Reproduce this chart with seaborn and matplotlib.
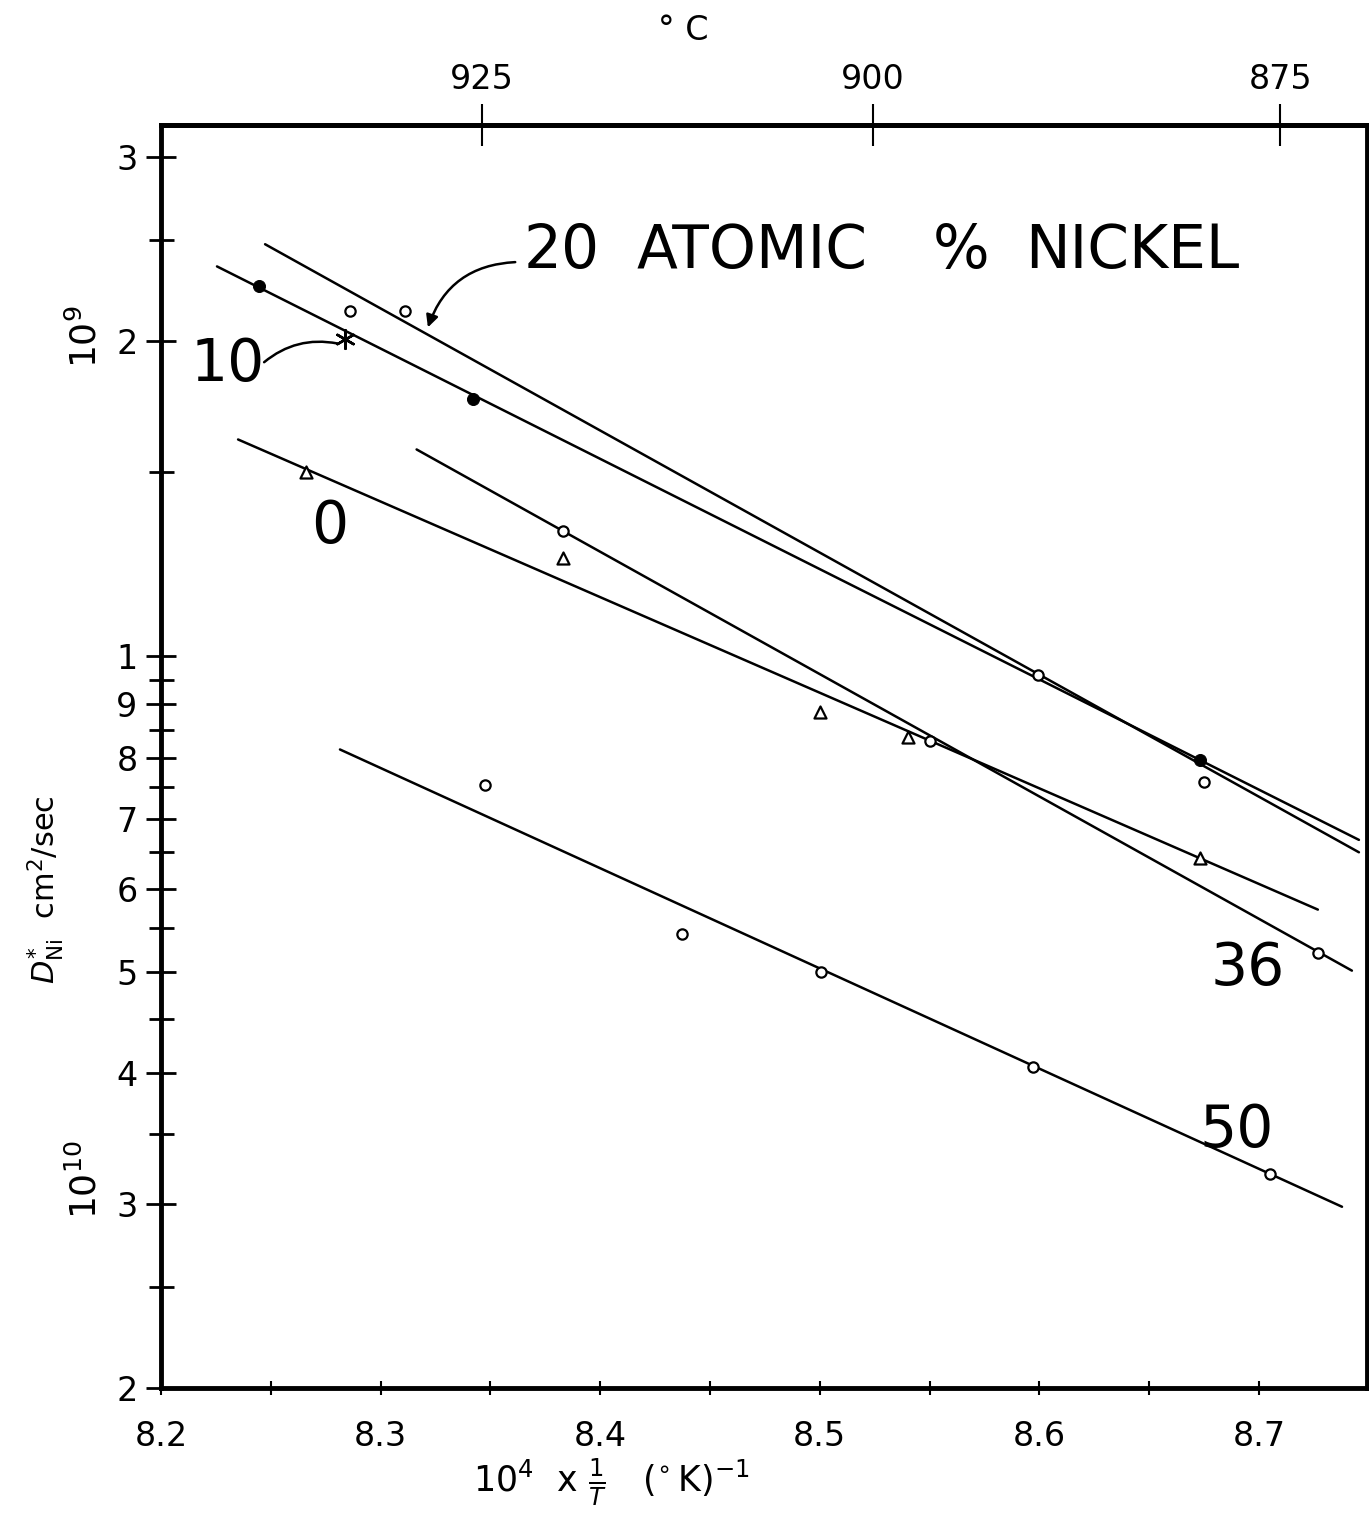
import numpy as np
import matplotlib
matplotlib.use("Agg")
import matplotlib.pyplot as plt
import seaborn as sns
from matplotlib.ticker import FixedLocator, NullFormatter

# ---------------- data ----------------
# measured points: x = 10^4/T (K^-1), D in cm^2/sec
x_10 = [8.2446, 8.342, 8.673]
d_10 = [2.258e-9, 1.761e-9, 0.797e-9]
x_10_star = [8.284]
d_10_star = [2.01e-9]
x_20 = [8.286, 8.311, 8.5994, 8.675]
d_20 = [2.137e-9, 2.137e-9, 0.961e-9, 0.759e-9]
x_0 = [8.266, 8.383, 8.500, 8.540, 8.673]
d_0 = [1.50e-9, 1.243e-9, 0.886e-9, 0.837e-9, 0.642e-9]
x_36 = [8.383, 8.550, 8.727]
d_36 = [1.317e-9, 0.831e-9, 0.521e-9]
x_50 = [8.3475, 8.4372, 8.5005, 8.597, 8.705]
d_50 = [0.753e-9, 0.543e-9, 0.499e-9, 0.405e-9, 0.320e-9]

# drawn fit lines (end points)
line_x_10 = [8.2255, 8.7455]
line_d_10 = [2.359e-9, 0.668e-9]
line_x_20 = [8.2474, 8.7455]
line_d_20 = [2.477e-9, 0.650e-9]
line_x_0 = [8.2351, 8.7268]
line_d_0 = [1.612e-9, 0.573e-9]
line_x_36 = [8.3164, 8.7423]
line_d_36 = [1.577e-9, 0.501e-9]
line_x_50 = [8.2815, 8.7378]
line_d_50 = [0.815e-9, 0.298e-9]

x_ticks = [8.2, 8.3, 8.4, 8.5, 8.6, 8.7]
x_ticklabels = ["8.2", "8.3", "8.4", "8.5", "8.6", "8.7"]
x_minor = [8.25, 8.35, 8.45, 8.55, 8.65]
y_ticks = [2e-10, 3e-10, 4e-10, 5e-10, 6e-10, 7e-10, 8e-10, 9e-10, 1e-9, 2e-9, 3e-9]
y_ticklabels = ["2", "3", "4", "5", "6", "7", "8", "9", "1", "2", "3"]
y_minor = [2.5e-10, 3.5e-10, 4.5e-10, 5.5e-10, 6.5e-10, 7.5e-10, 8.5e-10, 9.5e-10,
           1.5e-9, 2.5e-9]
top_ticks_c = [925, 900, 875]

# ---------------- figure ----------------
sns.set_style("ticks")
plt.rcParams["font.family"] = ["DejaVu Sans"]
plt.rcParams.update({"text.color": "black", "axes.edgecolor": "black",
                     "axes.labelcolor": "black", "xtick.color": "black",
                     "ytick.color": "black"})

W, H = 1369, 1535
fig = plt.figure(figsize=(W / 100, H / 100), dpi=100)
L, R, T, B = 161, 1367, 125, 1388
ax = fig.add_axes([L / W, (H - B) / H, (R - L) / W, (B - T) / H])

lw_line = 1.8
for lx, ly in [(line_x_10, line_d_10), (line_x_20, line_d_20), (line_x_0, line_d_0),
               (line_x_36, line_d_36), (line_x_50, line_d_50)]:
    sns.lineplot(x=lx, y=ly, ax=ax, color="black", linewidth=lw_line,
                 estimator=None, sort=False, legend=False)

open_kw = dict(color="white", edgecolor="black", linewidth=1.6, zorder=4, legend=False)
sns.scatterplot(x=x_20, y=d_20, ax=ax, marker="o", s=55, **open_kw)
sns.scatterplot(x=x_36, y=d_36, ax=ax, marker="o", s=55, **open_kw)
sns.scatterplot(x=x_50, y=d_50, ax=ax, marker="o", s=55, **open_kw)
sns.scatterplot(x=x_0, y=d_0, ax=ax, marker="^", s=75, **open_kw)
sns.scatterplot(x=x_10, y=d_10, ax=ax, marker="o", s=75, color="black",
                edgecolor="black", zorder=4, legend=False)
sns.scatterplot(x=x_10_star, y=d_10_star, ax=ax, marker=(6, 2, 0), s=180,
                color="black", linewidth=1.8, zorder=4, legend=False)

ax.set_yscale("log")
ax.set_xlim(8.2, 8.2 + (R - L) / 2196)
ax.set_ylim(2e-10, 3.22e-9)

ax.set_xticks(x_ticks, labels=x_ticklabels)
ax.xaxis.set_minor_locator(FixedLocator(x_minor))
ax.set_yticks(y_ticks, labels=y_ticklabels)
ax.yaxis.set_minor_locator(FixedLocator(y_minor))
ax.yaxis.set_minor_formatter(NullFormatter())

ax.tick_params(axis="x", which="both", direction="inout", length=10, width=1.5,
               labelsize=24, pad=18, top=False)
ax.tick_params(axis="y", which="major", direction="inout", length=22, width=2,
               labelsize=24, pad=6, right=False)
ax.tick_params(axis="y", which="minor", direction="inout", length=18, width=2,
               right=False)
for s in ax.spines.values():
    s.set_linewidth(3.5)
    s.set_color("black")
ax.set_xlabel("")
ax.set_ylabel("")

secax = ax.secondary_xaxis(
    "top",
    functions=(lambda x: 1e4 / np.asarray(x, dtype=float) - 273.15,
               lambda c: 1e4 / (np.asarray(c, dtype=float) + 273.15)))
secax.set_xticks(top_ticks_c, labels=[str(t) for t in top_ticks_c])
secax.tick_params(direction="inout", length=30, width=1.5, labelsize=24, pad=6,
                  color="black", labelcolor="black")
secax.spines["top"].set_linewidth(3.5)
secax.spines["top"].set_color("black")


def axpos(xp, yp):
    return ((xp - L) / (R - L), (B - yp) / (B - T))


big = 43
ax.text(*axpos(524, 252), "20", transform=ax.transAxes, fontsize=big,
        ha="left", va="center")
ax.text(*axpos(637, 252), "ATOMIC", transform=ax.transAxes, fontsize=big,
        ha="left", va="center")
ax.text(*axpos(933, 252), "%", transform=ax.transAxes, fontsize=big,
        ha="left", va="center")
ax.text(*axpos(1025, 252), "NICKEL", transform=ax.transAxes, fontsize=big,
        ha="left", va="center")
ax.text(*axpos(228, 365), "10", transform=ax.transAxes, fontsize=42,
        ha="center", va="center")
ax.text(*axpos(330, 527), "0", transform=ax.transAxes, fontsize=42,
        ha="center", va="center")
ax.text(*axpos(1248, 968), "36", transform=ax.transAxes, fontsize=42,
        ha="center", va="center")
ax.text(*axpos(1237, 1130), "50", transform=ax.transAxes, fontsize=42,
        ha="center", va="center")

ax.annotate("", xy=axpos(427, 330), xytext=axpos(518, 262), xycoords="axes fraction",
            textcoords="axes fraction",
            arrowprops=dict(arrowstyle="-|>", color="black", lw=1.8,
                            mutation_scale=18, connectionstyle="arc3,rad=0.35"))
ax.annotate("", xy=axpos(340, 344), xytext=axpos(262, 364), xycoords="axes fraction",
            textcoords="axes fraction",
            arrowprops=dict(arrowstyle="-", color="black", lw=1.8,
                            connectionstyle="arc3,rad=-0.25"))

fig.text(683 / W, 1 - 30 / H, "° C", fontsize=24, ha="center", va="center")
fig.text(45 / W, 1 - 890 / H, r"$D^{*}_{\mathrm{Ni}}$  cm$^{2}$/sec", rotation=90,
         fontsize=22, ha="center", va="center")
fig.text(85 / W, 1 - 337 / H, r"$10^{9}$", rotation=90, fontsize=26,
         ha="center", va="center")
fig.text(85 / W, 1 - 1180 / H, r"$10^{10}$", rotation=90, fontsize=26,
         ha="center", va="center")
fig.text(612 / W, 1 - 1482 / H,
         r"$10^{4}\ \ \mathrm{x}\ \frac{1}{T}\ \ \ (^{\circ}\,\mathrm{K})^{-1}$",
         fontsize=25, ha="center", va="center")

fig.savefig("out.png", dpi=100)
